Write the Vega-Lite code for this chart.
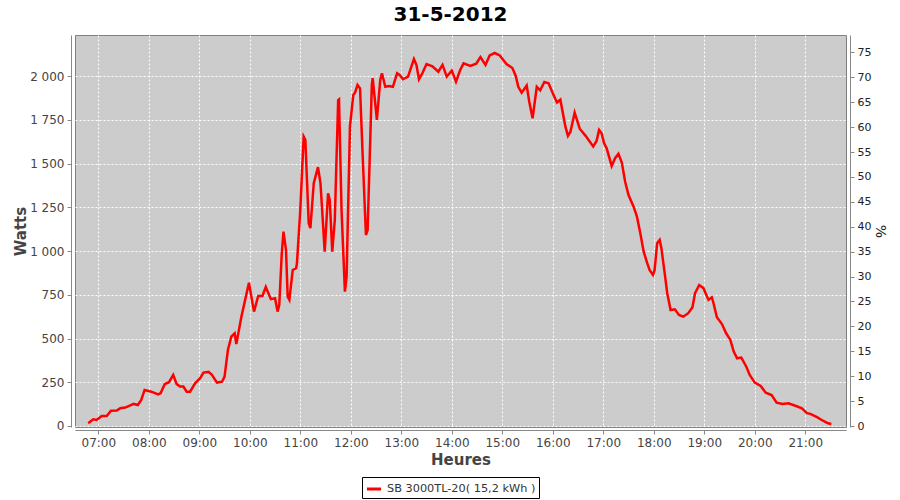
{
  "$schema": "https://vega.github.io/schema/vega-lite/v6.json",
  "width": 771,
  "height": 392,
  "autosize": "none",
  "padding": {"left": 75, "top": 35, "right": 54, "bottom": 73},
  "background": "white",
  "title": {"text": "31-5-2012", "fontSize": 20, "fontWeight": "bold", "font": "DejaVu Sans", "color": "#000000", "anchor": "middle", "dx": -10, "offset": 10},
  "config": {
    "view": {"fill": "#cccccc", "stroke": "#808080", "strokeWidth": 1},
    "axis": {"labelFont": "DejaVu Sans", "titleFont": "DejaVu Sans", "domainColor": "#888888", "tickColor": "#888888", "tickSize": 4, "labelFlush": false}
  },
  "layer": [
    {
      "data": {"values": [
        {"t": "2012-05-31T06:48", "w": 15},
        {"t": "2012-05-31T06:54", "w": 38},
        {"t": "2012-05-31T06:58", "w": 34},
        {"t": "2012-05-31T07:04", "w": 57},
        {"t": "2012-05-31T07:10", "w": 57},
        {"t": "2012-05-31T07:15", "w": 87},
        {"t": "2012-05-31T07:22", "w": 88},
        {"t": "2012-05-31T07:26", "w": 101},
        {"t": "2012-05-31T07:32", "w": 105},
        {"t": "2012-05-31T07:38", "w": 118},
        {"t": "2012-05-31T07:42", "w": 126},
        {"t": "2012-05-31T07:47", "w": 120},
        {"t": "2012-05-31T07:51", "w": 149},
        {"t": "2012-05-31T07:55", "w": 206},
        {"t": "2012-05-31T08:03", "w": 196},
        {"t": "2012-05-31T08:11", "w": 181},
        {"t": "2012-05-31T08:14", "w": 187},
        {"t": "2012-05-31T08:19", "w": 240},
        {"t": "2012-05-31T08:24", "w": 250},
        {"t": "2012-05-31T08:29", "w": 292},
        {"t": "2012-05-31T08:33", "w": 240},
        {"t": "2012-05-31T08:37", "w": 225},
        {"t": "2012-05-31T08:41", "w": 225},
        {"t": "2012-05-31T08:45", "w": 196},
        {"t": "2012-05-31T08:49", "w": 196},
        {"t": "2012-05-31T08:55", "w": 244},
        {"t": "2012-05-31T09:01", "w": 273},
        {"t": "2012-05-31T09:05", "w": 305},
        {"t": "2012-05-31T09:11", "w": 309},
        {"t": "2012-05-31T09:15", "w": 292},
        {"t": "2012-05-31T09:21", "w": 248},
        {"t": "2012-05-31T09:27", "w": 253},
        {"t": "2012-05-31T09:30", "w": 282},
        {"t": "2012-05-31T09:34", "w": 435},
        {"t": "2012-05-31T09:38", "w": 511},
        {"t": "2012-05-31T09:42", "w": 530},
        {"t": "2012-05-31T09:44", "w": 469},
        {"t": "2012-05-31T09:50", "w": 625},
        {"t": "2012-05-31T09:54", "w": 711},
        {"t": "2012-05-31T09:59", "w": 819},
        {"t": "2012-05-31T10:05", "w": 654},
        {"t": "2012-05-31T10:10", "w": 743},
        {"t": "2012-05-31T10:15", "w": 743},
        {"t": "2012-05-31T10:19", "w": 795},
        {"t": "2012-05-31T10:25", "w": 725},
        {"t": "2012-05-31T10:30", "w": 730},
        {"t": "2012-05-31T10:33", "w": 654},
        {"t": "2012-05-31T10:35", "w": 692},
        {"t": "2012-05-31T10:38", "w": 988},
        {"t": "2012-05-31T10:40", "w": 1111},
        {"t": "2012-05-31T10:43", "w": 1007},
        {"t": "2012-05-31T10:45", "w": 739},
        {"t": "2012-05-31T10:47", "w": 721},
        {"t": "2012-05-31T10:51", "w": 892},
        {"t": "2012-05-31T10:55", "w": 902},
        {"t": "2012-05-31T10:56", "w": 930},
        {"t": "2012-05-31T11:00", "w": 1235},
        {"t": "2012-05-31T11:04", "w": 1655},
        {"t": "2012-05-31T11:06", "w": 1636},
        {"t": "2012-05-31T11:10", "w": 1159},
        {"t": "2012-05-31T11:12", "w": 1131},
        {"t": "2012-05-31T11:16", "w": 1388},
        {"t": "2012-05-31T11:21", "w": 1480},
        {"t": "2012-05-31T11:24", "w": 1388},
        {"t": "2012-05-31T11:29", "w": 997},
        {"t": "2012-05-31T11:33", "w": 1331},
        {"t": "2012-05-31T11:35", "w": 1292},
        {"t": "2012-05-31T11:38", "w": 997},
        {"t": "2012-05-31T11:41", "w": 1178},
        {"t": "2012-05-31T11:45", "w": 1864},
        {"t": "2012-05-31T11:46", "w": 1868},
        {"t": "2012-05-31T11:49", "w": 1235},
        {"t": "2012-05-31T11:53", "w": 768},
        {"t": "2012-05-31T11:55", "w": 854},
        {"t": "2012-05-31T11:59", "w": 1712},
        {"t": "2012-05-31T12:03", "w": 1893},
        {"t": "2012-05-31T12:05", "w": 1906},
        {"t": "2012-05-31T12:08", "w": 1950},
        {"t": "2012-05-31T12:11", "w": 1931},
        {"t": "2012-05-31T12:14", "w": 1560},
        {"t": "2012-05-31T12:18", "w": 1092},
        {"t": "2012-05-31T12:20", "w": 1121},
        {"t": "2012-05-31T12:25", "w": 1950},
        {"t": "2012-05-31T12:26", "w": 1989},
        {"t": "2012-05-31T12:31", "w": 1750},
        {"t": "2012-05-31T12:35", "w": 1979},
        {"t": "2012-05-31T12:37", "w": 2017},
        {"t": "2012-05-31T12:41", "w": 1940},
        {"t": "2012-05-31T12:45", "w": 1944},
        {"t": "2012-05-31T12:50", "w": 1940},
        {"t": "2012-05-31T12:55", "w": 2017},
        {"t": "2012-05-31T12:58", "w": 2007},
        {"t": "2012-05-31T13:02", "w": 1983},
        {"t": "2012-05-31T13:08", "w": 1998},
        {"t": "2012-05-31T13:15", "w": 2099},
        {"t": "2012-05-31T13:18", "w": 2065},
        {"t": "2012-05-31T13:21", "w": 1983},
        {"t": "2012-05-31T13:25", "w": 2017},
        {"t": "2012-05-31T13:30", "w": 2070},
        {"t": "2012-05-31T13:37", "w": 2057},
        {"t": "2012-05-31T13:44", "w": 2026},
        {"t": "2012-05-31T13:49", "w": 2065},
        {"t": "2012-05-31T13:54", "w": 1998},
        {"t": "2012-05-31T14:00", "w": 2032},
        {"t": "2012-05-31T14:05", "w": 1969},
        {"t": "2012-05-31T14:10", "w": 2036},
        {"t": "2012-05-31T14:14", "w": 2074},
        {"t": "2012-05-31T14:22", "w": 2059},
        {"t": "2012-05-31T14:29", "w": 2072},
        {"t": "2012-05-31T14:34", "w": 2110},
        {"t": "2012-05-31T14:40", "w": 2065},
        {"t": "2012-05-31T14:45", "w": 2119},
        {"t": "2012-05-31T14:51", "w": 2133},
        {"t": "2012-05-31T14:57", "w": 2119},
        {"t": "2012-05-31T15:05", "w": 2070},
        {"t": "2012-05-31T15:12", "w": 2047},
        {"t": "2012-05-31T15:16", "w": 2002},
        {"t": "2012-05-31T15:19", "w": 1940},
        {"t": "2012-05-31T15:23", "w": 1906},
        {"t": "2012-05-31T15:29", "w": 1947},
        {"t": "2012-05-31T15:32", "w": 1856},
        {"t": "2012-05-31T15:36", "w": 1760},
        {"t": "2012-05-31T15:41", "w": 1940},
        {"t": "2012-05-31T15:45", "w": 1920},
        {"t": "2012-05-31T15:50", "w": 1967},
        {"t": "2012-05-31T15:55", "w": 1960},
        {"t": "2012-05-31T16:00", "w": 1903},
        {"t": "2012-05-31T16:05", "w": 1850},
        {"t": "2012-05-31T16:09", "w": 1866},
        {"t": "2012-05-31T16:15", "w": 1712},
        {"t": "2012-05-31T16:18", "w": 1659},
        {"t": "2012-05-31T16:21", "w": 1683},
        {"t": "2012-05-31T16:26", "w": 1792},
        {"t": "2012-05-31T16:32", "w": 1700},
        {"t": "2012-05-31T16:39", "w": 1659},
        {"t": "2012-05-31T16:44", "w": 1626},
        {"t": "2012-05-31T16:48", "w": 1598},
        {"t": "2012-05-31T16:52", "w": 1630},
        {"t": "2012-05-31T16:55", "w": 1693},
        {"t": "2012-05-31T16:58", "w": 1674},
        {"t": "2012-05-31T17:01", "w": 1617},
        {"t": "2012-05-31T17:04", "w": 1588},
        {"t": "2012-05-31T17:10", "w": 1487},
        {"t": "2012-05-31T17:14", "w": 1531},
        {"t": "2012-05-31T17:18", "w": 1556},
        {"t": "2012-05-31T17:22", "w": 1506},
        {"t": "2012-05-31T17:26", "w": 1397},
        {"t": "2012-05-31T17:30", "w": 1321},
        {"t": "2012-05-31T17:36", "w": 1254},
        {"t": "2012-05-31T17:40", "w": 1197},
        {"t": "2012-05-31T17:44", "w": 1102},
        {"t": "2012-05-31T17:48", "w": 997},
        {"t": "2012-05-31T17:52", "w": 934},
        {"t": "2012-05-31T17:55", "w": 892},
        {"t": "2012-05-31T17:59", "w": 864},
        {"t": "2012-05-31T18:01", "w": 892},
        {"t": "2012-05-31T18:04", "w": 1045},
        {"t": "2012-05-31T18:07", "w": 1064},
        {"t": "2012-05-31T18:09", "w": 1018},
        {"t": "2012-05-31T18:13", "w": 873},
        {"t": "2012-05-31T18:16", "w": 759},
        {"t": "2012-05-31T18:20", "w": 663},
        {"t": "2012-05-31T18:25", "w": 667},
        {"t": "2012-05-31T18:30", "w": 635},
        {"t": "2012-05-31T18:35", "w": 625},
        {"t": "2012-05-31T18:41", "w": 645},
        {"t": "2012-05-31T18:46", "w": 679},
        {"t": "2012-05-31T18:49", "w": 759},
        {"t": "2012-05-31T18:54", "w": 806},
        {"t": "2012-05-31T18:59", "w": 788},
        {"t": "2012-05-31T19:05", "w": 721},
        {"t": "2012-05-31T19:09", "w": 736},
        {"t": "2012-05-31T19:11", "w": 702},
        {"t": "2012-05-31T19:15", "w": 622},
        {"t": "2012-05-31T19:21", "w": 583},
        {"t": "2012-05-31T19:26", "w": 530},
        {"t": "2012-05-31T19:31", "w": 492},
        {"t": "2012-05-31T19:35", "w": 425},
        {"t": "2012-05-31T19:39", "w": 387},
        {"t": "2012-05-31T19:44", "w": 391},
        {"t": "2012-05-31T19:50", "w": 339},
        {"t": "2012-05-31T19:54", "w": 292},
        {"t": "2012-05-31T20:00", "w": 248},
        {"t": "2012-05-31T20:07", "w": 229},
        {"t": "2012-05-31T20:13", "w": 190},
        {"t": "2012-05-31T20:20", "w": 177},
        {"t": "2012-05-31T20:26", "w": 133},
        {"t": "2012-05-31T20:33", "w": 126},
        {"t": "2012-05-31T20:40", "w": 130},
        {"t": "2012-05-31T20:49", "w": 114},
        {"t": "2012-05-31T20:56", "w": 101},
        {"t": "2012-05-31T21:02", "w": 73},
        {"t": "2012-05-31T21:06", "w": 69},
        {"t": "2012-05-31T21:14", "w": 50},
        {"t": "2012-05-31T21:21", "w": 30},
        {"t": "2012-05-31T21:27", "w": 15},
        {"t": "2012-05-31T21:31", "w": 11}
      ]},
      "mark": {"type": "line", "strokeWidth": 2.5},
      "encoding": {
        "x": {
          "field": "t", "type": "temporal",
          "scale": {"domain": [
            {"year": 2012, "month": 5, "date": 31, "hours": 6, "minutes": 32, "seconds": 18},
            {"year": 2012, "month": 5, "date": 31, "hours": 21, "minutes": 48, "seconds": 24}
          ]},
          "axis": {
            "title": "Heures", "format": "%H:%M", "tickCount": 16,
            "offset": 3, "labelFontSize": 12, "labelColor": "#444444", "labelPadding": 3,
            "titleFontSize": 15, "titleFontWeight": "bold", "titleColor": "#444444", "titlePadding": 4,
            "grid": true, "gridColor": "#ffffff", "gridDash": [2, 2], "gridWidth": 1, "gridOpacity": 1
          }
        },
        "y": {
          "field": "w", "type": "quantitative",
          "scale": {"domain": [-6, 2236], "nice": false, "zero": false},
          "axis": {
            "title": "Watts", "values": [0, 250, 500, 750, 1000, 1250, 1500, 1750, 2000],
            "labelExpr": "replace(format(datum.value, ',d'), ',', ' ')",
            "offset": 4, "labelFontSize": 12, "labelColor": "#444444", "labelPadding": 3,
            "titleFontSize": 15, "titleFontWeight": "bold", "titleColor": "#444444", "titlePadding": 1,
            "grid": true, "gridColor": "#ffffff", "gridDash": [2, 2], "gridWidth": 1, "gridOpacity": 1
          }
        },
        "color": {
          "datum": "SB 3000TL-20( 15,2 kWh )",
          "scale": {"range": ["#ff0000"]},
          "legend": {
            "title": null, "orient": "none", "legendX": 287, "legendY": 442,
            "strokeColor": "#000000", "padding": 3, "fillColor": "#ffffff",
            "symbolType": "stroke", "symbolStrokeWidth": 3, "symbolSize": 200, "labelOffset": 4,
            "labelFont": "DejaVu Sans", "labelFontSize": 11.3, "labelColor": "#333333"
          }
        }
      }
    },
    {
      "data": {"values": [{"pct": 0}, {"pct": 75}]},
      "mark": {"type": "point", "opacity": 0},
      "encoding": {
        "y": {
          "field": "pct", "type": "quantitative",
          "scale": {"domain": [-0.2, 78.5], "nice": false, "zero": false},
          "axis": {
            "orient": "right", "title": "%", "values": [0, 5, 10, 15, 20, 25, 30, 35, 40, 45, 50, 55, 60, 65, 70, 75],
            "offset": 4, "labelFontSize": 11, "labelColor": "#222222", "labelPadding": 3,
            "titleFontSize": 14, "titleFontWeight": "normal", "titleColor": "#222222", "titlePadding": 2,
            "grid": false
          }
        }
      }
    }
  ],
  "resolve": {"scale": {"y": "independent"}}
}
